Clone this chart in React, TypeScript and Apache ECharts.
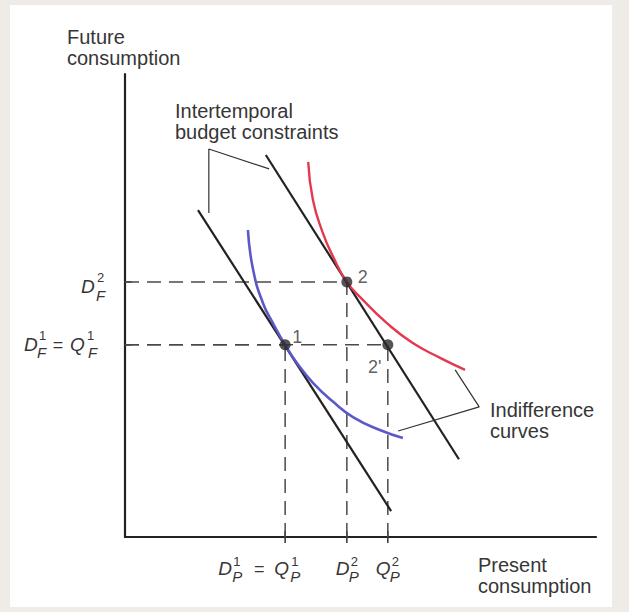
import React, { useEffect, useRef } from 'react';
import * as echarts from 'echarts';

// Data (axes scaled 0..100)
const budgetLine1 = [[15.5, 70.6], [56.5, 5.6]];
const budgetLine2 = [[29.9, 82.5], [70.9, 16.8]];
const indifferenceLow = [
  [26.1, 66.3], [27.2, 57.7], [29.3, 50.5], [31.4, 46.2], [34.0, 41.5], [36.5, 37.6],
  [39.9, 33.3], [44.2, 29.2], [48.4, 25.9], [54.1, 23.1], [59.0, 21.4],
];
const indifferenceHigh = [
  [38.9, 81.0], [39.9, 72.8], [42.0, 65.7], [44.2, 60.5], [47.1, 55.1], [50.5, 51.2],
  [55.6, 46.2], [61.1, 41.9], [66.9, 38.7], [72.2, 36.1],
];
const pointNames = ['1', '2', "2'"];
const pointValues = [[34.0, 41.5], [47.1, 55.1], [55.8, 41.5]];
const xTickValues = [34.0, 47.1, 55.8];
const yTickValues = [41.5, 55.1];
const budgetLeader = [[17.8, 70.0], [17.8, 83.8], [30.6, 79.5]];
const indifferenceLeader = [[70.1, 36.1], [75.2, 28.1], [58.0, 22.9]];

const FONT = '"Liberation Sans", Arial, Helvetica, sans-serif';
const TEXT = '#363636';

type Part = { t: string; dx: number; dy: number; size: number; italic?: boolean; center?: boolean };

// math tick labels: parts offset from tick anchor
const xTickLabels: Part[][] = [
  [
    { t: 'D', dx: -67, dy: 31.5, size: 19, italic: true },
    { t: '1', dx: -52, dy: 24, size: 13 },
    { t: 'P', dx: -53, dy: 39, size: 15, italic: true },
    { t: '=', dx: -26, dy: 31.5, size: 18, center: true },
    { t: 'Q', dx: -11, dy: 31.5, size: 19, italic: true },
    { t: '1', dx: 6, dy: 24, size: 13 },
    { t: 'P', dx: 5, dy: 39, size: 15, italic: true },
  ],
  [
    { t: 'D', dx: -11, dy: 31.5, size: 19, italic: true },
    { t: '2', dx: 4, dy: 24, size: 13 },
    { t: 'P', dx: 2, dy: 39, size: 15, italic: true },
  ],
  [
    { t: 'Q', dx: -12, dy: 31.5, size: 19, italic: true },
    { t: '2', dx: 4, dy: 24, size: 13 },
    { t: 'P', dx: 2, dy: 39, size: 15, italic: true },
  ],
];
const yTickLabels: Part[][] = [
  [
    { t: 'D', dx: -101, dy: 0, size: 19, italic: true },
    { t: '1', dx: -86, dy: -9, size: 13 },
    { t: 'F', dx: -88, dy: 8, size: 15, italic: true },
    { t: '=', dx: -67, dy: 0, size: 18, center: true },
    { t: 'Q', dx: -55, dy: 0, size: 19, italic: true },
    { t: '1', dx: -38, dy: -9, size: 13 },
    { t: 'F', dx: -37, dy: 8, size: 15, italic: true },
  ],
  [
    { t: 'D', dx: -44, dy: 5, size: 19, italic: true },
    { t: '2', dx: -28, dy: -4, size: 13 },
    { t: 'F', dx: -29, dy: 14, size: 15, italic: true },
  ],
];

export default function App() {
  const ref = useRef<HTMLDivElement>(null);

  useEffect(() => {
    const chart = echarts.init(ref.current!, null, { renderer: 'svg' });
    const line = (data: number[][], color: string, width: number, type: any = 'solid', smooth: any = false) => ({
      type: 'line',
      data,
      symbol: 'none',
      clip: false,
      silent: true,
      smooth,
      lineStyle: { color, width, type },
      z: 3,
    });
    const series: any[] = [];
    xTickValues.forEach((v) => series.push(line([[v, -1.3], [v, 1.3]], '#333', 1.5)));
    yTickValues.forEach((v) => series.push(line([[-1.8, v], [1.4, v]], '#333', 1.5)));
    pointValues.forEach(([x, y]) => {
      series.push(line([[x, 0], [x, y]], '#4a4a4a', 1.5, [14, 8]));
      series.push(line([[0, y], [x, y]], '#4a4a4a', 1.5, [14, 8]));
    });
    series.push(line(budgetLine1, '#222', 2.2));
    series.push(line(budgetLine2, '#222', 2.2));
    series.push(line(indifferenceLow, '#5b58c8', 2.6, 'solid', 0.5));
    series.push(line(indifferenceHigh, '#e2394f', 2.4, 'solid', 0.5));
    series.push(line(budgetLeader, '#333', 1.2));
    series.push(line(indifferenceLeader, '#333', 1.2));
    const labelOffsets = [[12, -8], [16, -5], [-13, 22]];
    series.push({
      type: 'scatter',
      symbolSize: 11,
      silent: true,
      z: 5,
      itemStyle: { color: '#2b2b2b' },
      data: pointValues.map((v, i) => ({
        value: v,
        name: pointNames[i],
        label: { offset: labelOffsets[i] },
      })),
      label: {
        show: true,
        position: 'inside',
        formatter: (p: any) => p.name,
        color: TEXT,
        fontSize: 18,
        fontFamily: FONT,
      },
    });

    const axisCommon = {
      type: 'value',
      min: 0,
      max: 100,
      axisLine: { show: true, onZero: false, lineStyle: { color: '#222', width: 2.2 } },
      axisTick: { show: false },
      axisLabel: { show: false },
      splitLine: { show: false },
    };

    chart.setOption({
      animation: false,
      backgroundColor: '#efece7',
      grid: { left: 125, top: 74, right: 33, bottom: 75, containLabel: false },
      xAxis: axisCommon,
      yAxis: axisCommon,
      series,
    });

    const txt = (text: string, x: number, y: number, size = 20, extra: any = {}) => ({
      type: 'text',
      x,
      y,
      z: 10,
      style: {
        text,
        fill: TEXT,
        fontSize: size,
        fontFamily: FONT,
        align: 'left',
        verticalAlign: 'middle',
        ...extra,
      },
    });

    const graphics: any[] = [
      {
        type: 'rect',
        z: -10,
        shape: { x: 10, y: 5, width: 602, height: 602 },
        style: { fill: '#ffffff' },
      },
      txt('Future', 67, 36.5),
      txt('consumption', 67, 57.5),
      txt('Intertemporal', 175, 111),
      txt('budget constraints', 175, 132),
      txt('Indifference', 490, 409.5),
      txt('curves', 490, 430.5),
      txt('Present', 478, 565),
      txt('consumption', 478, 586),
    ];
    const addParts = (parts: Part[], ax: number, ay: number) => {
      parts.forEach((p) =>
        graphics.push(
          txt(p.t, ax + p.dx, ay + p.dy, p.size, {
            fontStyle: p.italic ? 'italic' : 'normal',
            align: p.center ? 'center' : 'left',
          })
        )
      );
    };
    xTickValues.forEach((v, i) => {
      const [px, py] = chart.convertToPixel({ gridIndex: 0 }, [v, 0]) as number[];
      addParts(xTickLabels[i], px, py);
    });
    yTickValues.forEach((v, i) => {
      const [px, py] = chart.convertToPixel({ gridIndex: 0 }, [0, v]) as number[];
      addParts(yTickLabels[i], px, py);
    });
    chart.setOption({ graphic: graphics });

    return () => chart.dispose();
  }, []);

  return (
    <div
      ref={ref}
      style={{ position: 'absolute', left: 0, top: 0, width: 629, height: 612 }}
    />
  );
}
